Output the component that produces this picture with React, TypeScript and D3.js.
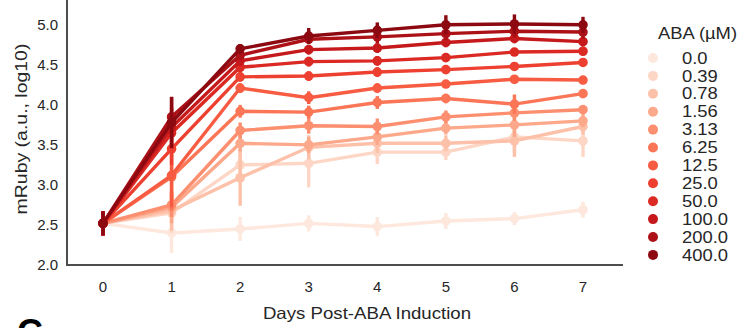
import React, { useEffect, useRef } from 'react';
import * as d3 from 'd3';

const days = [0, 1, 2, 3, 4, 5, 6, 7];
const abaLevels = ['0.0', '0.39', '0.78', '1.56', '3.13', '6.25', '12.5', '25.0', '50.0', '100.0', '200.0', '400.0'];
const yTicks = [2.0, 2.5, 3.0, 3.5, 4.0, 4.5, 5.0];

// mean mRuby (log10) per ABA level, days 0..7
const aba0 = [2.52, 2.40, 2.45, 2.52, 2.48, 2.55, 2.58, 2.69];
const aba039 = [2.52, 2.65, 3.25, 3.27, 3.41, 3.41, 3.60, 3.55];
const aba078 = [2.52, 2.68, 3.09, 3.47, 3.52, 3.52, 3.55, 3.73];
const aba156 = [2.52, 2.72, 3.52, 3.50, 3.60, 3.71, 3.75, 3.80];
const aba313 = [2.52, 2.75, 3.68, 3.74, 3.73, 3.85, 3.90, 3.94];
const aba625 = [2.52, 3.10, 3.92, 3.91, 4.03, 4.08, 4.01, 4.14];
const aba125 = [2.52, 3.12, 4.21, 4.09, 4.21, 4.26, 4.32, 4.31];
const aba25 = [2.52, 3.45, 4.35, 4.36, 4.41, 4.44, 4.48, 4.53];
const aba50 = [2.52, 3.65, 4.47, 4.54, 4.55, 4.59, 4.66, 4.67];
const aba100 = [2.52, 3.72, 4.55, 4.69, 4.71, 4.78, 4.83, 4.79];
const aba200 = [2.52, 3.85, 4.62, 4.82, 4.85, 4.89, 4.92, 4.91];
const aba400 = [2.52, 3.78, 4.70, 4.86, 4.93, 5.00, 5.01, 5.00];

// error bar half widths
const err0 = [0.15, 0.25, 0.15, 0.10, 0.12, 0.10, 0.08, 0.10];
const err039 = [0.15, 0.25, 0.20, 0.30, 0.15, 0.10, 0.20, 0.20];
const err078 = [0.15, 0.25, 0.35, 0.15, 0.12, 0.10, 0.20, 0.10];
const err156 = [0.15, 0.20, 0.10, 0.10, 0.10, 0.08, 0.15, 0.08];
const err313 = [0.15, 0.15, 0.10, 0.10, 0.10, 0.08, 0.10, 0.06];
const err625 = [0.15, 0.42, 0.08, 0.08, 0.08, 0.06, 0.12, 0.05];
const err125 = [0.15, 0.40, 0.06, 0.08, 0.06, 0.05, 0.05, 0.05];
const err25 = [0.15, 0.20, 0.06, 0.06, 0.06, 0.05, 0.05, 0.05];
const err50 = [0.15, 0.20, 0.06, 0.06, 0.06, 0.05, 0.05, 0.05];
const err100 = [0.15, 0.25, 0.06, 0.06, 0.06, 0.06, 0.06, 0.06];
const err200 = [0.15, 0.25, 0.06, 0.06, 0.08, 0.08, 0.08, 0.08];
const err400 = [0.15, 0.32, 0.06, 0.10, 0.10, 0.12, 0.12, 0.10];

const means = [aba0, aba039, aba078, aba156, aba313, aba625, aba125, aba25, aba50, aba100, aba200, aba400];
const errs = [err0, err039, err078, err156, err313, err625, err125, err25, err50, err100, err200, err400];

const App = () => {
  const ref = useRef<SVGSVGElement>(null);

  useEffect(() => {
    const width = 751;
    const height = 328;
    const font = "'Liberation Sans', Arial, sans-serif";
    const textColor = '#262626';

    const svg = d3.select(ref.current).attr('width', width).attr('height', height);
    svg.selectAll('*').remove();

    const x = d3.scalePoint<number>().domain(days).range([103, 583]);
    const y = d3.scaleLinear().domain([2, 5.31]).range([265, 0]);
    const color = (i: number) => d3.interpolateReds((i + 1) / 13);

    // series, lightest first so the dark ones sit on top
    means.forEach((vals, i) => {
      const g = svg.append('g');
      const c = color(i);
      const line = d3.line<number>()
        .x((_, j) => x(days[j])!)
        .y(d => y(d));
      g.append('path')
        .attr('d', line(vals))
        .attr('fill', 'none')
        .attr('stroke', c)
        .attr('stroke-width', 3.4);
      g.selectAll('.err')
        .data(vals)
        .enter()
        .append('line')
        .attr('x1', (_, j) => x(days[j])!)
        .attr('x2', (_, j) => x(days[j])!)
        .attr('y1', (d, j) => y(d - errs[i][j]))
        .attr('y2', (d, j) => y(d + errs[i][j]))
        .attr('stroke', c)
        .attr('stroke-width', 3.4);
      g.selectAll('circle')
        .data(vals)
        .enter()
        .append('circle')
        .attr('cx', (_, j) => x(days[j])!)
        .attr('cy', d => y(d))
        .attr('r', 4.8)
        .attr('fill', c);
    });

    // spines
    svg.append('line')
      .attr('x1', 67).attr('x2', 67).attr('y1', 0).attr('y2', 265)
      .attr('stroke', '#4d4d4d').attr('stroke-width', 2);
    svg.append('line')
      .attr('x1', 66).attr('x2', 623).attr('y1', 265).attr('y2', 265)
      .attr('stroke', '#4d4d4d').attr('stroke-width', 2);

    // y tick labels
    svg.selectAll('.ytick')
      .data(yTicks)
      .enter()
      .append('text')
      .attr('x', 58)
      .attr('y', d => y(d))
      .attr('dy', '0.35em')
      .attr('text-anchor', 'end')
      .style('font-family', font)
      .style('font-size', '15px')
      .attr('fill', textColor)
      .text(d => d.toFixed(1));

    // x tick labels
    svg.selectAll('.xtick')
      .data(days)
      .enter()
      .append('text')
      .attr('x', d => x(d)!)
      .attr('y', 287)
      .attr('dy', '0.35em')
      .attr('text-anchor', 'middle')
      .style('font-family', font)
      .style('font-size', '15px')
      .attr('fill', textColor)
      .text(d => d);

    // axis labels (the source font runs a bit wide)
    svg.append('text')
      .attr('transform', 'translate(367,313) scale(1.13,1)')
      .attr('dy', '0.35em')
      .attr('text-anchor', 'middle')
      .style('font-family', font)
      .style('font-size', '16.5px')
      .attr('fill', textColor)
      .text('Days Post-ABA Induction');

    svg.append('text')
      .attr('transform', 'translate(21,129) rotate(-90) scale(1.18,1)')
      .attr('dy', '0.35em')
      .attr('text-anchor', 'middle')
      .style('font-family', font)
      .style('font-size', '16.5px')
      .attr('fill', textColor)
      .text('mRuby (a.u., log10)');

    // legend
    svg.append('text')
      .attr('transform', 'translate(658,33) scale(1.15,1)')
      .attr('dy', '0.35em')
      .style('font-family', font)
      .style('font-size', '16px')
      .attr('fill', textColor)
      .text('ABA (\u00b5M)');

    const legend = svg.selectAll('.leg')
      .data(abaLevels)
      .enter()
      .append('g')
      .attr('transform', (_, i) => `translate(0,${58 + i * 17.9})`);
    legend.append('circle')
      .attr('cx', 653)
      .attr('cy', 0)
      .attr('r', 5)
      .attr('fill', (_, i) => color(i));
    legend.append('text')
      .attr('transform', 'translate(682,0) scale(1.15,1)')
      .attr('dy', '0.35em')
      .style('font-family', font)
      .style('font-size', '16px')
      .attr('fill', textColor)
      .text(d => d);

    // panel letter, cut off at the bottom as in the source figure
    svg.append('text')
      .attr('x', 17)
      .attr('y', 345)
      .style('font-family', font)
      .style('font-size', '36px')
      .style('font-weight', 'bold')
      .attr('fill', '#000')
      .text('C');
  }, []);

  return <svg ref={ref} style={{ position: 'absolute', left: 0, top: 0 }} />;
};

export default App;
